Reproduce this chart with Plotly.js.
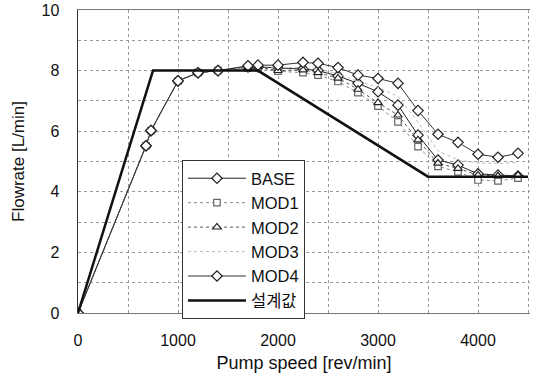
<!DOCTYPE html>
<html>
<head>
<meta charset="utf-8">
<script src="https://cdn.plot.ly/plotly-3.0.1.min.js"></script>
<style>html,body{margin:0;padding:0;background:#fff;}#chart{width:540px;height:378px;}</style>
</head>
<body>
<div id="chart"></div>
<script>
// Pump speed [rev/min]
const speed = [0, 680, 730, 1000, 1200, 1400, 1700, 1800, 2000, 2250, 2400, 2600, 2800, 3000, 3200, 3400, 3600, 3800, 4000, 4200, 4400];
const base = [0, 5.52, 6.02, 7.66, 7.93, 8.0, 8.12, 8.12, 8.10, 8.05, 8.00, 7.82, 7.58, 7.30, 6.86, 5.87, 5.05, 4.88, 4.59, 4.55, 4.52];
const mod1 = [0, 5.52, 6.02, 7.66, 7.93, 8.0, 8.08, 8.10, 7.98, 7.93, 7.85, 7.64, 7.27, 6.83, 6.31, 5.49, 4.84, 4.66, 4.39, 4.36, 4.45];
const mod2 = [0, 5.52, 6.02, 7.66, 7.93, 8.0, 8.10, 8.12, 8.00, 8.02, 7.93, 7.75, 7.38, 6.94, 6.53, 5.71, 4.94, 4.77, 4.55, 4.52, 4.55];
const mod3 = [0, 5.52, 6.02, 7.66, 7.93, 8.0, 8.12, 8.14, 8.10, 8.10, 8.05, 7.90, 7.65, 7.45, 7.15, 6.30, 5.35, 5.05, 4.95, 4.93, 4.97];
const mod4 = [0, 5.52, 6.02, 7.66, 7.93, 8.0, 8.16, 8.18, 8.18, 8.27, 8.24, 8.10, 7.85, 7.74, 7.58, 6.68, 5.90, 5.63, 5.24, 5.14, 5.27];
const designSpeed = [0, 750, 1800, 3500, 4500];
const designFlow = [0, 8, 8, 4.5, 4.5];
const names = ['BASE', 'MOD1', 'MOD2', 'MOD3', 'MOD4', '설계값'];
const xTicks = [0, 1000, 2000, 3000, 4000];
const yTicks = [0, 2, 4, 6, 8, 10];

const FONT = 'Liberation Sans, Arial, Noto Sans CJK KR, sans-serif';
const mk = (sym, col, sz) => ({symbol: sym, size: sz || 8, color: '#fff', line: {color: col, width: 1.2}});

const traces = [
  {x: speed, y: base, name: names[0], mode: 'lines+markers', line: {color: '#222', width: 1}, marker: mk('diamond', '#222', 8)},
  {x: speed, y: mod1, name: names[1], mode: 'lines+markers', line: {color: '#888', width: 1, dash: 'dot'}, marker: mk('square', '#666', 6.5)},
  {x: speed, y: mod2, name: names[2], mode: 'lines+markers', line: {color: '#555', width: 1, dash: 'dot'}, marker: mk('triangle-up', '#222', 7.5)},
  {x: speed, y: mod3, name: names[3], mode: 'lines', line: {color: '#bbb', width: 1, dash: 'dot'}},
  {x: speed, y: mod4, name: names[4], mode: 'lines+markers', line: {color: '#333', width: 1}, marker: mk('diamond', '#222', 8)},
  {x: designSpeed, y: designFlow, name: names[5], mode: 'lines', line: {color: '#111', width: 2.5}}
];

const layout = {
  width: 540, height: 378,
  margin: {l: 78, r: 10, t: 10, b: 65},
  paper_bgcolor: '#fff', plot_bgcolor: '#fff',
  font: {family: FONT, size: 16, color: '#111'},
  showlegend: true,
  legend: {
    x: 0.230, y: 0.505, xanchor: 'left', yanchor: 'top',
    bgcolor: '#fff', bordercolor: '#333', borderwidth: 1,
    font: {family: FONT, size: 16.5, color: '#111'},
    itemwidth: 58,
    tracegroupgap: 0
  },
  xaxis: {
    range: [0, 4520], tickmode: 'array', tickvals: xTicks, ticktext: xTicks.map(String),
    ticks: '', ticklabelstandoff: 13,
    tickfont: {family: FONT, size: 16},
    showgrid: true, gridcolor: '#999', griddash: 'dot', gridwidth: 1,
    minor: {dtick: 500, showgrid: true, gridcolor: '#999', griddash: 'dot', gridwidth: 1},
    zeroline: false, showline: true, linecolor: '#777', mirror: true, linewidth: 1,
    title: {text: 'Pump speed [rev/min]', font: {family: FONT, size: 18}, standoff: 8}
  },
  yaxis: {
    range: [0, 10], tickmode: 'array', tickvals: yTicks, ticktext: yTicks.map(String),
    ticks: '', ticklabelstandoff: 14,
    tickfont: {family: FONT, size: 16},
    showgrid: true, gridcolor: '#999', griddash: 'dot', gridwidth: 1,
    minor: {dtick: 1, showgrid: true, gridcolor: '#999', griddash: 'dot', gridwidth: 1},
    zeroline: false, showline: true, linecolor: '#333', linewidth: 1.5,
    title: {text: 'Flowrate [L/min]', font: {family: FONT, size: 17}, standoff: 12}
  }
};

Plotly.newPlot('chart', traces, layout, {displayModeBar: false, staticPlot: true});
</script>
</body>
</html>
